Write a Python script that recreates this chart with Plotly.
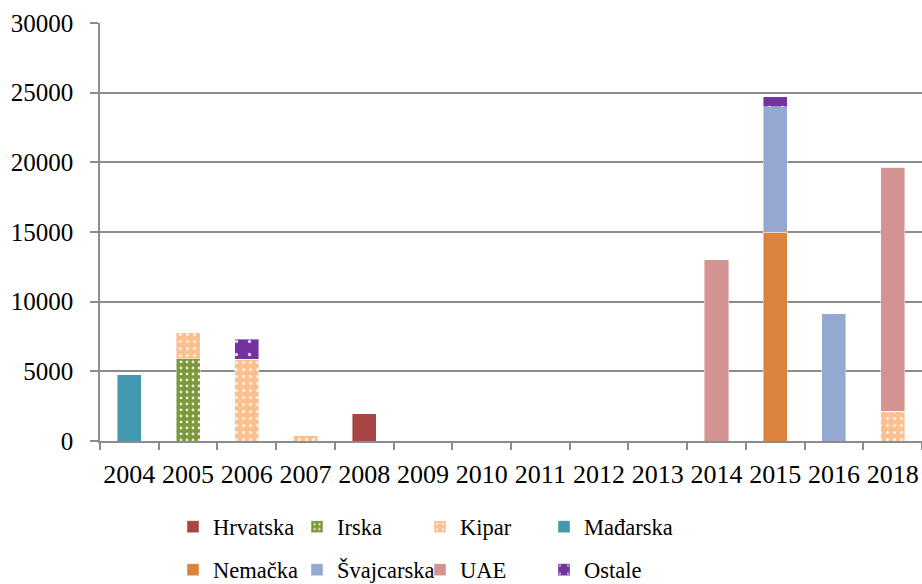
import plotly.graph_objects as go

# Years on the category axis
years = ["2004", "2005", "2006", "2007", "2008", "2009", "2010",
         "2011", "2012", "2013", "2014", "2015", "2016", "2018"]

# Values per country (stacked, bottom to top in this order)
hrvatska   = [0, 0, 0, 0, 1950, 0, 0, 0, 0, 0, 0, 0, 0, 0]
irska      = [0, 5900, 0, 0, 0, 0, 0, 0, 0, 0, 0, 0, 0, 0]
kipar      = [0, 1900, 5850, 400, 0, 0, 0, 0, 0, 0, 0, 0, 0, 2150]
madjarska  = [4800, 0, 0, 0, 0, 0, 0, 0, 0, 0, 0, 0, 0, 0]
nemacka    = [0, 0, 0, 0, 0, 0, 0, 0, 0, 0, 0, 15000, 0, 0]
svajcarska = [0, 0, 0, 0, 0, 0, 0, 0, 0, 0, 0, 9000, 9150, 0]
uae        = [0, 0, 0, 0, 0, 0, 0, 0, 0, 0, 13000, 0, 0, 17500]
ostale     = [0, 0, 1450, 0, 0, 0, 0, 0, 0, 0, 0, 700, 0, 0]

y_ticks = [0, 5000, 10000, 15000, 20000, 25000, 30000]

FONT = "Liberation Serif, Times New Roman, serif"
GRID = "#8c8c8c"

series = [
    ("Hrvatska",   hrvatska,   "#A94644", None),
    ("Irska",      irska,      "#7B983B", dict(size=6, solidity=0.18)),
    ("Kipar",      kipar,      "#FCC08F", dict(size=7, solidity=0.15)),
    ("Mađarska",   madjarska,  "#4298AF", None),
    ("Nemačka",    nemacka,    "#DC843E", None),
    ("Švajcarska", svajcarska, "#94A9CF", None),
    ("UAE",        uae,        "#D29392", None),
    ("Ostale",     ostale,     "#7232A0", dict(size=13, solidity=0.05)),
]

# Legend laid out as a 4-column grid, one legend box per entry
L, R, T, B = 100, 0, 23, 143
W, H = 922, 584
plot_w, plot_h = W - L - R, H - T - B
col_text_px = [213, 337, 460, 584]   # left edge of legend text, pixels
row_mid_px = [527, 570]               # vertical centre of legend rows, pixels

legend_layout = {}
fig = go.Figure()
for i, (name, vals, color, pat) in enumerate(series):
    row, col = divmod(i, 4)
    key = "legend" if i == 0 else f"legend{i + 1}"
    marker = dict(color=color, line=dict(width=0.6, color="rgba(255,255,255,0.7)"))
    if pat:
        marker["pattern"] = dict(shape=".", fillmode="replace", bgcolor=color,
                                 fgcolor="white", fgopacity=0.8, **pat)
    fig.add_trace(go.Bar(x=years, y=vals, name=name, marker=marker,
                         legend=key, showlegend=True))
    legend_layout[key] = dict(
        x=(col_text_px[col] - 40 - L) / plot_w,
        y=(H - B - row_mid_px[row]) / plot_h,
        xanchor="left", yanchor="middle", orientation="h",
        itemwidth=30, font=dict(family=FONT, size=22.5, color="black"),
        bgcolor="rgba(0,0,0,0)", borderwidth=0, visible=True,
        itemclick=False, itemdoubleclick=False,
    )

fig.update_layout(
    barmode="stack",
    bargap=0.59,
    showlegend=True,
    width=W, height=H,
    margin=dict(l=L, r=R, t=T, b=B, autoexpand=False),
    paper_bgcolor="white", plot_bgcolor="white",
    font=dict(family=FONT, size=24, color="black"),
    xaxis=dict(
        type="category", categoryorder="array", categoryarray=years,
        showline=True, linecolor=GRID, linewidth=1.5,
        ticks="outside", tickson="boundaries", ticklen=7, tickcolor=GRID, tickwidth=1.5,
        tickfont=dict(family=FONT, size=26, color="black"),
        tickangle=0, automargin=False, ticklabelstandoff=9,
        showgrid=False, fixedrange=True,
    ),
    yaxis=dict(
        range=[0, 30000], tickvals=y_ticks, ticktext=[str(v) for v in y_ticks],
        showline=True, linecolor=GRID, linewidth=1.5,
        ticks="outside", ticklen=8, tickcolor=GRID, tickwidth=1.5,
        showgrid=True, gridcolor=GRID, gridwidth=1.5,
        zeroline=False, automargin=False,
        tickfont=dict(family=FONT, size=25, color="black"),
        ticklabelstandoff=12, fixedrange=True,
    ),
    **legend_layout,
)

fig.write_html("out.html")
